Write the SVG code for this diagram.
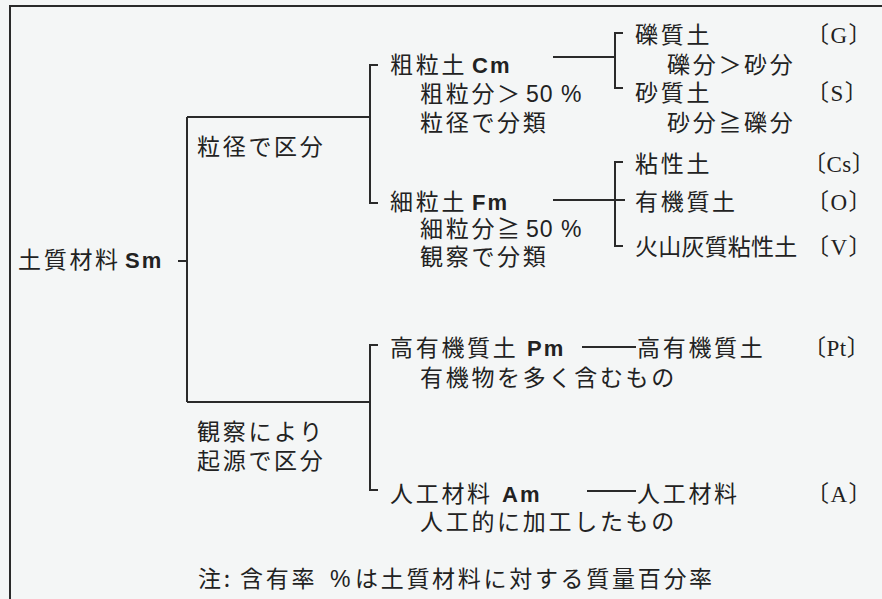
<svg xmlns="http://www.w3.org/2000/svg" width="882" height="599" viewBox="0 0 882 599">
<style>
text{font-family:"Noto Sans CJK JP",sans-serif;font-size:23px;fill:#222;letter-spacing:2.7px}
.lat{font-family:"Liberation Sans",sans-serif;font-size:22px;font-weight:bold;letter-spacing:2px}
.num{font-family:"Liberation Sans",sans-serif;letter-spacing:1px}
.code{font-family:"Liberation Serif","Noto Sans CJK JP",serif;letter-spacing:1.5px}
.ln{fill:none;stroke:#2a2a2a;stroke-width:2}
</style>
<rect x="0" y="0" width="882" height="599" fill="#f4f6f6"/>
<path class="ln" d="M10,599 V6 H882"/>
<g id="connectors">
<path class="ln" d="M178,261 H187 M187,117 V402 M187,117 H370 M187,402 H370"/>
<path class="ln" d="M378,65 H370 V203 H378"/>
<path class="ln" d="M378,345 H370 V490 H378"/>
<path class="ln" d="M553,57 H615 M623,33 H615 V88 H623"/>
<path class="ln" d="M553,200 H625 M623,162 H615 V246 H623"/>
<path class="ln" d="M582,347 H636 M587,491 H636"/>
</g>
<g id="root"><text x="18" y="268">土質材料</text><text class="lat" x="125" y="268">Sm</text></g>
<g id="by-size"><text x="197" y="155">粒径で区分</text></g>
<g id="by-origin"><text x="197" y="440">観察により</text><text x="197" y="469">起源で区分</text></g>
<g id="coarse">
<text x="390" y="73">粗粒土</text><text class="lat" x="472" y="73">Cm</text>
<text x="420" y="102">粗粒分＞</text><text class="num" x="526" y="102">50 %</text>
<text x="420" y="131">粒径で分類</text>
</g>
<g id="fine">
<text x="390" y="210">細粒土</text><text class="lat" x="472" y="210">Fm</text>
<text x="420" y="237">細粒分≧</text><text class="num" x="526" y="237">50 %</text>
<text x="420" y="265">観察で分類</text>
</g>
<g id="gravel"><text x="635" y="43">礫質土</text><text x="667" y="73">礫分＞砂分</text><text class="code" x="806" y="43">〔G〕</text></g>
<g id="sand"><text x="635" y="101">砂質土</text><text x="667" y="131">砂分≧礫分</text><text class="code" x="806" y="101">〔S〕</text></g>
<g id="clay"><text x="635" y="172">粘性土</text><text class="code" x="803" y="172" style="letter-spacing:0.5px">〔Cs〕</text></g>
<g id="organic"><text x="635" y="210">有機質土</text><text class="code" x="806" y="210">〔O〕</text></g>
<g id="volcanic"><text x="635" y="255" textLength="165" lengthAdjust="spacing">火山灰質粘性土</text><text class="code" x="806" y="255">〔V〕</text></g>
<g id="high-organic">
<text x="390" y="356">高有機質土</text><text class="lat" x="527" y="356">Pm</text>
<text x="420" y="386">有機物を多く含むもの</text>
</g>
<g id="peat"><text x="637" y="356">高有機質土</text><text class="code" x="803" y="356" style="letter-spacing:0.5px">〔Pt〕</text></g>
<g id="artificial">
<text x="390" y="502">人工材料</text><text class="lat" x="502" y="502">Am</text>
<text x="420" y="530">人工的に加工したもの</text>
</g>
<g id="artificial-leaf"><text x="637" y="502">人工材料</text><text class="code" x="806" y="502">〔A〕</text></g>
<g id="note"><text x="198" y="587">注:</text><text x="240" y="587">含有率</text><text class="num" x="330" y="587">%</text><text x="355" y="587">は土質材料に対する質量百分率</text></g>
</svg>
